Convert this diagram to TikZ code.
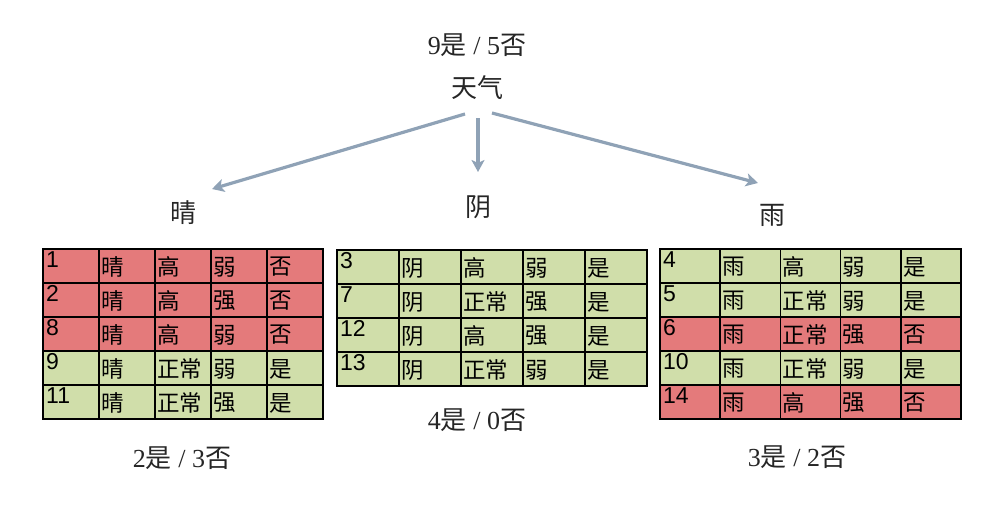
\documentclass[tikz,border=0pt]{standalone}
\usepackage{fontspec}
\setmainfont{Liberation Serif}
\newfontfamily\cjk{Noto Sans CJK SC}
\newfontfamily\cellfont{Liberation Sans}
\usetikzlibrary{arrows.meta,positioning}
\definecolor{nocolor}{HTML}{E47A7B}
\definecolor{yescolor}{HTML}{D0DEAA}
\definecolor{arrowgray}{HTML}{8FA2B6}
\newcommand\zh[1]{{\cjk #1}}
\newcommand\rowh{34}
% #1 name, #2 left, #3 top, #4 column width, #5 rows
\newcommand\datatable[5]{%
  \foreach \n/\a/\b/\c/\d/\f [count=\i from 0] in {#5} {
    \pgfmathsetmacro\yt{#3+\i*\rowh}
    \filldraw[grid, fill=\f] (#2,\yt) rectangle ++(5*#4,\rowh);
    \foreach \k in {1,...,4} \draw[grid] (#2+\k*#4,\yt) -- ++(0,\rowh);
    \node[num cell] (#1-\i-0) at (#2+3,\yt+2.5) {\n};
    \node[zh cell] (#1-\i-1) at (#2+#4+2,\yt+\rowh/2+1) {\a};
    \node[zh cell] (#1-\i-2) at (#2+2*#4+2,\yt+\rowh/2+1) {\b};
    \node[zh cell] (#1-\i-3) at (#2+3*#4+2,\yt+\rowh/2+1) {\c};
    \node[zh cell] (#1-\i-4) at (#2+4*#4+2,\yt+\rowh/2+1) {\d};
  }%
}
\begin{document}
\begin{tikzpicture}
[x=1pt,y=-1pt,
 grid/.style={draw=black,line width=1.6pt},
 num cell/.style={anchor=north west,inner sep=0pt,font=\cellfont\fontsize{23}{26}\selectfont},
 zh cell/.style={anchor=west,inner sep=0pt,font=\cjk\fontsize{22.5}{26}\selectfont},
 label node/.style={inner sep=1pt,font=\fontsize{26}{30}\selectfont,text=black!85},
 branch/.style={-{Stealth[length=12pt,width=13pt,inset=3pt]},line width=3.2pt,draw=arrowgray}]

  \useasboundingbox (0,0) rectangle (1005,509);

  \node (rootcount) [label node] at (477,45) {9\zh{是} / 5\zh{否}};
  \node (weather) [label node] at (477,88) {\zh{天气}};
  \node (sunny) [label node] at (183,213) {\zh{晴}};
  \node (overcast) [label node] at (478,207) {\zh{阴}};
  \node (rain) [label node] at (772,215) {\zh{雨}};

  \draw [branch] ([shift={(-12,26)}]weather.center) -- ([shift={(29,-24)}]sunny.center);
  \draw [branch] ([shift={(1,30)}]weather.center) -- ([shift={(0,-35)}]overcast.center);
  \draw [branch] ([shift={(15,25)}]weather.center) -- ([shift={(-14,-32)}]rain.center);

  \datatable{sun}{43}{249}{56}{1/晴/高/弱/否/nocolor, 2/晴/高/强/否/nocolor,
    8/晴/高/弱/否/nocolor, 9/晴/正常/弱/是/yescolor, 11/晴/正常/强/是/yescolor}
  \datatable{ovc}{337}{250}{62}{3/阴/高/弱/是/yescolor, 7/阴/正常/强/是/yescolor,
    12/阴/高/强/是/yescolor, 13/阴/正常/弱/是/yescolor}
  \datatable{rai}{660}{249}{60.2}{4/雨/高/弱/是/yescolor, 5/雨/正常/弱/是/yescolor,
    6/雨/正常/强/否/nocolor, 10/雨/正常/弱/是/yescolor, 14/雨/高/强/否/nocolor}

  \node (suncount) [label node] at (182,458) {2\zh{是} / 3\zh{否}};
  \node (ovccount) [label node] at (477,420) {4\zh{是} / 0\zh{否}};
  \node (raicount) [label node] at (797,457) {3\zh{是} / 2\zh{否}};

\end{tikzpicture}
\end{document}
